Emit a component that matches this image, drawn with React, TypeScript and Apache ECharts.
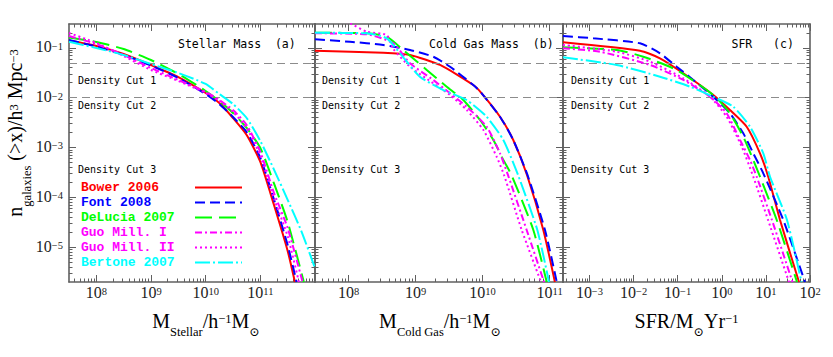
import { useEffect, useRef } from 'react';
import * as echarts from 'echarts';

const FONT_SERIF = '"Liberation Serif", "DejaVu Serif", serif';
const FONT_MONO = '"DejaVu Sans Mono", "Liberation Mono", monospace';
const FONT_LEGEND = '"Liberation Mono", "DejaVu Sans Mono", monospace';
const FRAME = '#606060';

// ---------- models ----------
const modelNames = ['Bower 2006', 'Font 2008', 'DeLucia 2007', 'Guo Mill. I', 'Guo Mill. II', 'Bertone 2007'];
const modelColors = ['#ff0000', '#0000ff', '#00ff00', '#ff00ff', '#ff00ff', '#00ffff'];
const modelDash: any[] = ['solid', [10, 5], [17, 7], [7, 3, 2, 3], [2, 3], [15, 3, 2, 3]];

// ---------- panel (a): stellar mass [M*/h^-1 Msun, n(>x)] ----------
const stellarBower = [[3.162e7, 0.14], [1e8, 0.109], [3.162e8, 0.075], [1e9, 0.0452], [3.162e9, 0.0259], [1e10, 0.0124], [1.778e10, 0.0078], [3.162e10, 0.0039], [5.623e10, 0.00178], [1e11, 5.12e-4], [1.778e11, 7.0e-5], [3.162e11, 8.4e-6], [4.29e11, 2e-6]];
const stellarFont = [[3.162e7, 0.143], [1e8, 0.106], [3.162e8, 0.0717], [1e9, 0.0441], [3.162e9, 0.0248], [1e10, 0.0118], [1.778e10, 0.00745], [3.162e10, 0.00408], [5.623e10, 0.00204], [1e11, 6.2e-4], [1.778e11, 9e-5], [3.162e11, 1.1e-5], [4.6e11, 2e-6]];
const stellarDeLucia = [[3.162e7, 0.161], [1e8, 0.131], [3.162e8, 0.0944], [1e9, 0.0569], [3.162e9, 0.0298], [1e10, 0.0136], [1.778e10, 0.00855], [3.162e10, 0.00492], [5.623e10, 0.00246], [1e11, 9.77e-4], [1.778e11, 1.9e-4], [3.162e11, 3.2e-5], [6.25e11, 2e-6]];
const stellarGuoI = [[3.162e7, 0.172], [1e8, 0.119], [3.162e8, 0.0717], [1e9, 0.0393], [3.162e9, 0.0226], [1e10, 0.013], [1.778e10, 0.00896], [3.162e10, 0.00565], [5.623e10, 0.00283], [1e11, 8.11e-4], [1.778e11, 1.22e-4], [3.162e11, 2.44e-5], [5.92e11, 2e-6]];
const stellarGuoII = [[3.162e7, 0.198], [1e8, 0.125], [3.162e8, 0.0684], [1e9, 0.0358], [3.162e9, 0.0216], [1e10, 0.0124], [1.778e10, 0.00855], [3.162e10, 0.00515], [5.623e10, 0.00246], [1e11, 6.74e-4], [1.778e11, 9.5e-5], [3.162e11, 1.66e-5], [5.07e11, 2e-6]];
const stellarBertone = [[3.162e7, 0.132], [1e8, 0.099], [3.162e8, 0.0717], [1e9, 0.0473], [3.162e9, 0.0312], [1e10, 0.0188], [1.778e10, 0.0118], [3.162e10, 0.00745], [5.623e10, 0.0039], [1e11, 0.00135], [1.778e11, 3.6e-4], [3.162e11, 8.9e-5], [5.623e11, 2.1e-5], [1e12, 3.8e-6]];

// ---------- panel (b): cold gas mass ----------
const coldGasBower = [[3.162e7, 0.0873], [3.3e8, 0.0796], [8.26e8, 0.0717], [2.32e9, 0.0452], [7.27e9, 0.0179], [9.7e9, 0.0122], [1.82e10, 0.00414], [2.87e10, 0.00141], [4.6e10, 2.81e-4], [8.06e10, 2.21e-5], [1.2e11, 2e-6]];
const coldGasFont = [[3.162e7, 0.148], [1.05e8, 0.132], [3.3e8, 0.114], [8.26e8, 0.0902], [1.84e9, 0.0662], [3.27e9, 0.0417], [7.27e9, 0.0179], [9.7e9, 0.0122], [1.82e10, 0.00414], [2.87e10, 0.00141], [4.68e10, 2.81e-4], [8.54e10, 2.21e-5], [1.28e11, 2e-6]];
const coldGasDeLucia = [[3.162e7, 0.2], [1.87e8, 0.195], [3.72e8, 0.167], [6.57e8, 0.0902], [1.47e9, 0.0358], [2.92e9, 0.0166], [5.16e9, 0.00896], [9.16e9, 0.00356], [1.45e10, 0.00141], [2.04e10, 5.61e-4], [2.7e10, 2.81e-4], [5.72e10, 2.21e-5], [9.06e10, 2e-6]];
const coldGasGuoI = [[3.162e7, 0.195], [1.87e8, 0.186], [4.66e8, 0.123], [8.26e8, 0.0488], [1.84e9, 0.0226], [3.27e9, 0.0122], [5.79e9, 0.00658], [1.15e10, 0.00261], [1.82e10, 7.63e-4], [2.39e10, 2.81e-4], [4.55e10, 2.21e-5], [8.26e10, 2e-6]];
const coldGasGuoII = [[3.162e7, 0.72], [5.3e7, 0.455], [1.05e8, 0.31], [1.87e8, 0.21], [3.72e8, 0.18], [4.66e8, 0.095], [8.26e8, 0.0417], [1.84e9, 0.0194], [3.27e9, 0.0113], [5.79e9, 0.00565], [1.03e10, 0.00224], [1.62e10, 6.53e-4], [2.09e10, 2.81e-4], [3.84e10, 2.21e-5], [7.45e10, 2e-6]];
const coldGasBertone = [[3.162e7, 0.2], [1.87e8, 0.195], [3.72e8, 0.155], [5.86e8, 0.0775], [1.16e9, 0.0263], [2.6e9, 0.0142], [5.79e9, 0.00896], [1.15e10, 0.00414], [2.04e10, 0.00141], [3.38e10, 2.81e-4], [6.56e10, 2.21e-5], [9.8e10, 2e-6]];

// ---------- panel (c): SFR ----------
const sfrBower = [[2.512e-4, 0.129], [0.014, 0.0873], [0.0397, 0.0615], [0.134, 0.0308], [0.641, 0.0113], [1.53, 0.00565], [3.67, 0.00261], [7.35, 7.63e-4], [11.3, 2.59e-4], [20.9, 3.51e-5], [56.3, 2e-6]];
const sfrFont = [[2.512e-4, 0.172], [1.22e-3, 0.155], [0.014, 0.123], [0.0397, 0.0775], [0.095, 0.0417], [0.226, 0.0226], [0.641, 0.0104], [1.53, 0.00485], [3.07, 0.00192], [5.18, 7.63e-4], [8.73, 3.03e-4], [24.8, 3.51e-5], [76.9, 2e-6]];
const sfrDeLucia = [[2.512e-4, 0.102], [4.14e-3, 0.0902], [0.0166, 0.0662], [0.095, 0.0358], [0.641, 0.0113], [1.53, 0.00485], [3.07, 0.00164], [5.18, 5.61e-4], [7.35, 2.59e-4], [17.6, 3.51e-5], [50.7, 2e-6]];
const sfrGuoI = [[2.512e-4, 0.0977], [1.73e-3, 0.0834], [0.0236, 0.0452], [0.134, 0.0226], [0.541, 0.0104], [1.29, 0.00485], [2.59, 0.00141], [4.36, 5.61e-4], [6.18, 2.59e-4], [13.7, 3.51e-5], [40.1, 2e-6]];
const sfrGuoII = [[2.512e-4, 0.114], [4.14e-3, 0.0834], [0.0236, 0.0526], [0.134, 0.0244], [0.541, 0.0104], [1.29, 0.00414], [2.83, 0.00104], [5.18, 2.59e-4], [11.2, 3.51e-5], [33.4, 2e-6]];
const sfrBertone = [[2.512e-4, 0.0644], [4.14e-3, 0.0452], [0.0397, 0.0263], [0.19, 0.0166], [0.641, 0.0104], [1.82, 0.00658], [4.36, 0.00261], [8.73, 7.63e-4], [12.4, 2.59e-4], [30.1, 3.51e-5], [64.1, 2e-6]];

const panelData = [
  [stellarBower, stellarFont, stellarDeLucia, stellarGuoI, stellarGuoII, stellarBertone],
  [coldGasBower, coldGasFont, coldGasDeLucia, coldGasGuoI, coldGasGuoII, coldGasBertone],
  [sfrBower, sfrFont, sfrDeLucia, sfrGuoI, sfrGuoII, sfrBertone],
];

// ---------- axes, ticks, labels ----------
const xRanges = [[3.162e7, 1e12], [3.162e7, 1.585e11], [2.512e-4, 100]];
const xMajorTicks = [[1e8, 1e9, 1e10, 1e11], [1e8, 1e9, 1e10, 1e11], [1e-3, 1e-2, 1e-1, 1, 10, 100]];
const yRange = [2e-6, 0.3];
const yMajorTicks = [1e-5, 1e-4, 1e-3, 1e-2, 1e-1];
const densityCuts = [0.0452, 0.0117, 5.2e-4];
const densityCutLabels = ['Density Cut 1', 'Density Cut 2', 'Density Cut 3'];
const panelTitles = ['Stellar Mass  (a)', 'Cold Gas Mass  (b)', 'SFR   (c)'];
const xTitles = [
  '{m|M}{s|Stellar}{m|/h}{p|−1}{m|M}{s|⊙}',
  '{m|M}{s|Cold Gas}{m|/h}{p|−1}{m|M}{s|⊙}',
  '{m|SFR/M}{s|⊙}{m|Yr}{p|−1}',
];
const yTitle = '{m|n}{s|galaxies}{m| (>x)/h}{p|3}{m| Mpc}{p|−3}';

// ---------- layout (pixels) ----------
const GRID_TOP = 24;
const GRID_H = 258;
const gridLefts = [69, 315, 563];
const gridWidths = [246, 248, 247];
const titlePos = [[178, 44.4], [429, 44.4], [731.5, 44.4]];
const cutLabelX = [78, 322, 571];
const cutLabelY = [80.7, 105.3, 169.3];
const xTitleX = [206, 440, 686.5];

function minorTicks(min: number, max: number) {
  const out: number[] = [];
  for (let e = Math.floor(Math.log10(min)); e <= Math.ceil(Math.log10(max)); e++) {
    for (let k = 2; k <= 9; k++) {
      const v = k * Math.pow(10, e);
      if (v > min * 1.0001 && v < max * 0.9999) out.push(v);
    }
  }
  return out;
}

const expLabel = (v: number) => {
  const e = Math.round(Math.log10(v));
  return `{b|10}{s|${e < 0 ? '−' + -e : e}}`;
};

const tickRich = {
  b: { fontFamily: FONT_SERIF, fontSize: 16, lineHeight: 18, color: '#222', verticalAlign: 'top' },
  s: { fontFamily: FONT_SERIF, fontSize: 10.5, lineHeight: 10, padding: [2, 0, 0, 0], color: '#222', verticalAlign: 'top' },
};

const titleRich = {
  m: { fontFamily: FONT_SERIF, fontSize: 20, lineHeight: 22, color: '#222', verticalAlign: 'top' },
  s: { fontFamily: FONT_SERIF, fontSize: 12.5, lineHeight: 12, padding: [15, 0, 0, 0], color: '#222', verticalAlign: 'top' },
  p: { fontFamily: FONT_SERIF, fontSize: 12.5, lineHeight: 12, padding: [2, 0, 0, 0], color: '#222', verticalAlign: 'top' },
};

const tickLine = { color: FRAME, width: 1 };
const frameLine = { show: true, onZero: false, lineStyle: { color: FRAME, width: 1.6 } };

function xAxes(p: number) {
  const [min, max] = xRanges[p];
  const common = { type: 'log', logBase: 10, gridIndex: p, min, max, splitLine: { show: false }, silent: true };
  const minors = minorTicks(min, max);
  return [
    { ...common, position: 'bottom', axisLine: frameLine,
      axisTick: { show: true, inside: true, length: 7, customValues: xMajorTicks[p], lineStyle: tickLine },
      axisLabel: { show: true, margin: 2, customValues: xMajorTicks[p], formatter: expLabel, rich: tickRich } },
    { ...common, position: 'bottom', axisLine: { show: false },
      axisTick: { show: true, inside: true, length: 3.5, customValues: minors, lineStyle: tickLine }, axisLabel: { show: false } },
    { ...common, position: 'top', axisLine: frameLine,
      axisTick: { show: true, inside: true, length: 7, customValues: xMajorTicks[p], lineStyle: tickLine }, axisLabel: { show: false } },
    { ...common, position: 'top', axisLine: { show: false },
      axisTick: { show: true, inside: true, length: 3.5, customValues: minors, lineStyle: tickLine }, axisLabel: { show: false } },
  ];
}

function yAxes(p: number) {
  const [min, max] = yRange;
  const common = { type: 'log', logBase: 10, gridIndex: p, min, max, splitLine: { show: false }, silent: true };
  const minors = minorTicks(min, max);
  return [
    { ...common, position: 'left', axisLine: frameLine,
      axisTick: { show: true, inside: true, length: 7, customValues: yMajorTicks, lineStyle: tickLine },
      axisLabel: { show: p === 0, margin: 6, customValues: yMajorTicks, formatter: expLabel, rich: tickRich } },
    { ...common, position: 'left', axisLine: { show: false },
      axisTick: { show: true, inside: true, length: 3.5, customValues: minors, lineStyle: tickLine }, axisLabel: { show: false } },
    { ...common, position: 'right', axisLine: frameLine,
      axisTick: { show: true, inside: true, length: 7, customValues: yMajorTicks, lineStyle: tickLine }, axisLabel: { show: false } },
    { ...common, position: 'right', axisLine: { show: false },
      axisTick: { show: true, inside: true, length: 3.5, customValues: minors, lineStyle: tickLine }, axisLabel: { show: false } },
  ];
}

function buildOption() {
  const grid = gridLefts.map((left, i) => ({ left, top: GRID_TOP, width: gridWidths[i], height: GRID_H, show: false }));
  const xAxis: any[] = [];
  const yAxis: any[] = [];
  for (let p = 0; p < 3; p++) {
    xAxis.push(...xAxes(p));
    yAxis.push(...yAxes(p));
  }
  const series: any[] = [];
  for (let p = 0; p < 3; p++) {
    modelNames.forEach((name, i) => {
      const s: any = {
        type: 'line', name, xAxisIndex: p * 4, yAxisIndex: p * 4,
        data: panelData[p][i], symbol: 'none', showSymbol: false, smooth: 0.2, clip: true,
        lineStyle: { color: modelColors[i], width: 2, type: modelDash[i] },
        itemStyle: { color: modelColors[i] }, emphasis: { disabled: true }, z: 3 + i,
      };
      if (i === 0) {
        s.markLine = {
          silent: true, symbol: ['none', 'none'], label: { show: false }, emphasis: { disabled: true },
          lineStyle: { color: '#8c8c8c', type: [8, 5], width: 1 },
          data: densityCuts.map((v) => ({ yAxis: v })),
        };
      }
      series.push(s);
    });
  }

  const legendRich: any = {};
  modelNames.forEach((n, i) => {
    legendRich['k' + i] = { width: 109, align: 'left', color: modelColors[i], fontFamily: FONT_LEGEND, fontWeight: 'bold', fontSize: 13 };
  });

  const graphic: any[] = [];
  panelTitles.forEach((t, i) => {
    graphic.push({ type: 'text', x: titlePos[i][0], y: titlePos[i][1], silent: true,
      style: { text: t, fontFamily: FONT_MONO, fontSize: 11.5, fill: '#000', align: 'left', verticalAlign: 'middle' } });
  });
  cutLabelX.forEach((x) => {
    densityCutLabels.forEach((t, j) => {
      graphic.push({ type: 'text', x, y: cutLabelY[j], silent: true,
        style: { text: t, fontFamily: FONT_MONO, fontSize: 10, fill: '#000', align: 'left', verticalAlign: 'middle' } });
    });
  });
  xTitles.forEach((t, i) => {
    graphic.push({ type: 'text', x: xTitleX[i], y: 310.5, silent: true,
      style: { text: t, rich: titleRich, align: 'center', verticalAlign: 'top' } });
  });
  graphic.push({ type: 'text', x: 5, y: 133, rotation: Math.PI / 2, silent: true,
    style: { text: yTitle, rich: titleRich, align: 'center', verticalAlign: 'top' } });

  return {
    animation: false,
    backgroundColor: '#ffffff',
    textStyle: { fontFamily: FONT_SERIF },
    grid,
    xAxis,
    yAxis,
    legend: {
      data: modelNames, orient: 'vertical', left: 81, top: 181, padding: 0, itemGap: 2,
      itemWidth: 47, itemHeight: 10, align: 'right', selectedMode: false,
      itemStyle: { opacity: 0 }, lineStyle: { width: 2 },
      formatter: (name: string) => `{k${modelNames.indexOf(name)}|${name}}`,
      textStyle: { rich: legendRich, fontFamily: FONT_LEGEND, fontSize: 13, fontWeight: 'bold' },
    },
    graphic,
    series,
  };
}

export default function App() {
  const ref = useRef<HTMLDivElement>(null);
  useEffect(() => {
    document.body.style.margin = '0';
    const chart = echarts.init(ref.current as HTMLDivElement, null, { renderer: 'svg' });
    chart.setOption(buildOption() as any);
    return () => chart.dispose();
  }, []);
  return <div ref={ref} style={{ width: 833, height: 357 }} />;
}
